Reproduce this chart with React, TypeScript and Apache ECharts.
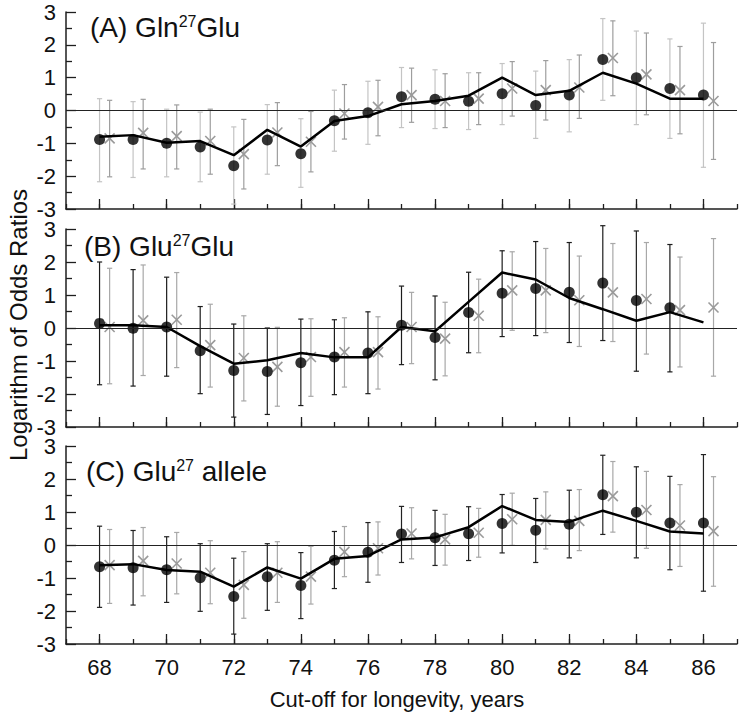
import React, { useEffect, useRef } from "react";
import * as echarts from "echarts";

const years = [68, 69, 70, 71, 72, 73, 74, 75, 76, 77, 78, 79, 80, 81, 82, 83, 84, 85, 86];
const evenTicks = [68, 70, 72, 74, 76, 78, 80, 82, 84, 86];
const panelTitles = ["(A) Gln{sup|27}Glu", "(B) Glu{sup|27}Glu", "(C) Glu{sup|27} allele"];
const yTitle = "Logarithm of Odds Ratios";
const xTitle = "Cut-off for longevity, years";

// Panel A
const aDot = [-0.88, -0.88, -1.0, -1.11, -1.68, -0.9, -1.32, -0.31, -0.07, 0.42, 0.34, 0.28, 0.51, 0.15, 0.47, 1.55, 1.0, 0.67, 0.47];
const aDotHi = [0.36, 0.27, 0.04, -0.05, -0.5, 0.18, -0.25, 0.62, 0.89, 1.31, 1.24, 1.15, 1.43, 1.2, 1.55, 2.8, 2.42, 2.18, 2.66];
const aDotLo = [-2.17, -2.04, -2.02, -2.17, -2.85, -1.94, -2.34, -1.24, -1.03, -0.52, -0.55, -0.58, -0.43, -0.85, -0.65, 0.31, -0.43, -0.85, -1.73];
const aLine = [-0.8, -0.75, -0.98, -0.93, -1.36, -0.59, -1.1, -0.32, -0.17, 0.19, 0.29, 0.45, 1.0, 0.47, 0.6, 1.15, 0.82, 0.36, 0.36];
const aCross = [-0.85, -0.68, -0.78, -0.93, -1.33, -0.67, -0.95, -0.09, 0.11, 0.47, 0.29, 0.36, 0.67, 0.62, 0.7, 1.6, 1.1, 0.62, 0.29];
const aCrossHi = [0.31, 0.34, 0.17, 0.04, -0.27, 0.24, -0.03, 0.79, 0.92, 1.29, 1.12, 1.15, 1.49, 1.52, 1.69, 2.73, 2.36, 1.95, 2.07];
const aCrossLo = [-2.02, -1.78, -1.78, -1.94, -2.39, -1.68, -1.87, -0.87, -0.77, -0.36, -0.52, -0.43, -0.17, -0.29, -0.24, 0.45, -0.13, -0.71, -1.49];

// Panel B
const bDot = [0.14, -0.01, 0.03, -0.69, -1.29, -1.32, -1.05, -0.88, -0.76, 0.08, -0.29, 0.47, 1.05, 1.2, 1.08, 1.36, 0.83, 0.61, null];
const bDotHi = [2.0, 1.77, 1.54, 0.65, 0.12, 0.0, 0.27, 0.25, 0.49, 1.27, 0.97, 1.69, 2.34, 2.62, 2.59, 3.1, 2.94, 2.53, null];
const bDotLo = [-1.72, -1.76, -1.46, -1.99, -2.7, -2.62, -2.35, -2.02, -1.99, -1.11, -1.57, -0.75, -0.26, -0.23, -0.44, -0.38, -1.31, -1.33, null];
const bLine = [0.08, 0.08, 0.03, -0.55, -1.08, -0.98, -0.76, -0.89, -0.89, 0.03, -0.1, 0.79, 1.68, 1.47, 0.91, 0.57, 0.22, 0.48, 0.17];
const bCross = [0.03, 0.23, 0.25, -0.52, -0.91, -1.18, -0.88, -0.73, -0.73, 0.03, -0.32, 0.37, 1.14, 1.14, 0.84, 1.08, 0.88, 0.54, 0.62];
const bCrossHi = [1.81, 1.91, 1.68, 0.72, 0.37, 0.02, 0.28, 0.31, 0.34, 1.08, 0.78, 1.48, 2.31, 2.41, 2.18, 2.56, 2.59, 2.15, 2.71];
const bCrossLo = [-1.69, -1.44, -1.2, -1.79, -2.21, -2.37, -2.07, -1.79, -1.85, -1.08, -1.45, -0.75, -0.07, -0.14, -0.56, -0.41, -0.79, -1.18, -1.46];

// Panel C
const cDot = [-0.66, -0.69, -0.75, -0.99, -1.56, -0.96, -1.23, -0.46, -0.22, 0.33, 0.22, 0.34, 0.65, 0.45, 0.63, 1.52, 0.99, 0.67, 0.67];
const cDotHi = [0.57, 0.44, 0.25, 0.04, -0.4, 0.04, -0.23, 0.41, 0.68, 1.17, 1.05, 1.16, 1.53, 1.41, 1.66, 2.72, 2.37, 2.08, 2.74];
const cDotLo = [-1.89, -1.82, -1.74, -2.01, -2.7, -1.98, -2.23, -1.32, -1.13, -0.53, -0.62, -0.47, -0.24, -0.53, -0.39, 0.32, -0.39, -0.75, -1.4];
const cLine = [-0.61, -0.58, -0.76, -0.81, -1.26, -0.68, -1.02, -0.42, -0.33, 0.17, 0.23, 0.54, 1.18, 0.76, 0.7, 1.04, 0.73, 0.41, 0.35];
const cCross = [-0.61, -0.48, -0.56, -0.84, -1.21, -0.84, -0.96, -0.21, -0.1, 0.35, 0.17, 0.37, 0.78, 0.76, 0.73, 1.48, 1.06, 0.59, 0.42];
const cCrossHi = [0.47, 0.53, 0.38, 0.13, -0.2, 0.1, -0.04, 0.56, 0.7, 1.13, 0.93, 1.11, 1.57, 1.61, 1.68, 2.53, 2.23, 1.83, 2.07];
const cCrossLo = [-1.77, -1.54, -1.48, -1.78, -2.22, -1.74, -1.79, -0.96, -0.91, -0.42, -0.61, -0.37, -0.01, -0.12, -0.17, 0.39, -0.1, -0.65, -1.25];

const CROSS_SHIFT = 0.3;
const FONT = "'Liberation Sans', Arial, sans-serif";

const panels = [
  { dot: aDot, dotHi: aDotHi, dotLo: aDotLo, line: aLine, cross: aCross, crossHi: aCrossHi, crossLo: aCrossLo, dotBar: "#c4c4c4", crossBar: "#9e9e9e" },
  { dot: bDot, dotHi: bDotHi, dotLo: bDotLo, line: bLine, cross: bCross, crossHi: bCrossHi, crossLo: bCrossLo, dotBar: "#1c1c1c", crossBar: "#a8a8a8" },
  { dot: cDot, dotHi: cDotHi, dotLo: cDotLo, line: cLine, cross: cCross, crossHi: cCrossHi, crossLo: cCrossLo, dotBar: "#222222", crossBar: "#a8a8a8" },
];

const gridTops = [12, 229, 446];
const gridHeights = [197, 198, 198];
const titlePos = [
  [90, 13],
  [84, 232],
  [86, 457],
];

function errorBarSeries(xs: number[], lo: (number | null)[], hi: (number | null)[], color: string, gi: number) {
  const data: number[][] = [];
  xs.forEach((x, i) => {
    if (lo[i] != null && hi[i] != null) data.push([x, lo[i] as number, hi[i] as number]);
  });
  return {
    type: "custom",
    xAxisIndex: gi * 2,
    yAxisIndex: gi,
    z: 1,
    silent: true,
    encode: { x: 0, y: [1, 2] },
    data,
    renderItem: (params: any, api: any) => {
      const x = api.value(0);
      const top = api.coord([x, api.value(2)]);
      const bot = api.coord([x, api.value(1)]);
      const c = 2.6;
      const st = { stroke: color, lineWidth: 1.2 };
      return {
        type: "group",
        children: [
          { type: "line", shape: { x1: top[0], y1: top[1], x2: bot[0], y2: bot[1] }, style: st },
          { type: "line", shape: { x1: top[0] - c, y1: top[1], x2: top[0] + c, y2: top[1] }, style: st },
          { type: "line", shape: { x1: bot[0] - c, y1: bot[1], x2: bot[0] + c, y2: bot[1] }, style: st },
        ],
      };
    },
  };
}

function crossSeries(xs: number[], vals: (number | null)[], gi: number) {
  const data: number[][] = [];
  xs.forEach((x, i) => {
    if (vals[i] != null) data.push([x, vals[i] as number]);
  });
  return {
    type: "custom",
    xAxisIndex: gi * 2,
    yAxisIndex: gi,
    z: 2,
    silent: true,
    encode: { x: 0, y: 1 },
    data,
    renderItem: (params: any, api: any) => {
      const p = api.coord([api.value(0), api.value(1)]);
      const h = 5;
      const st = { stroke: "#9a9a9a", lineWidth: 1.6 };
      return {
        type: "group",
        children: [
          { type: "line", shape: { x1: p[0] - h, y1: p[1] - h, x2: p[0] + h, y2: p[1] + h }, style: st },
          { type: "line", shape: { x1: p[0] - h, y1: p[1] + h, x2: p[0] + h, y2: p[1] - h }, style: st },
        ],
      };
    },
  };
}

export default function App() {
  const ref = useRef<HTMLDivElement>(null);
  useEffect(() => {
    if (!ref.current) return;
    const chart = echarts.init(ref.current, undefined, { renderer: "svg" });
    const axisColor = "#1e1e1e";

    const grids = gridTops.map((t, i) => ({ left: 66, top: t, width: 671, height: gridHeights[i] }));
    const xAxes: any[] = [];
    const yAxes: any[] = [];
    const series: any[] = [];

    panels.forEach((p, gi) => {
      xAxes.push({
        gridIndex: gi,
        type: "value",
        min: 67,
        max: 87,
        interval: 1,
        position: "bottom",
        axisLine: { show: true, onZero: false, lineStyle: { color: axisColor, width: 1.5 } },
        axisTick: { show: true, inside: true, length: 5, lineStyle: { color: axisColor, width: 1.3 } },
        axisLabel: { show: false },
        splitLine: { show: false },
      });
      xAxes.push({
        gridIndex: gi,
        type: "value",
        min: 67,
        max: 87,
        interval: 1,
        position: "bottom",
        axisLine: { show: false, onZero: false },
        axisTick: { show: true, inside: true, length: 10, customValues: evenTicks, lineStyle: { color: axisColor, width: 1.3 } },
        axisLabel: {
          show: gi === 2,
          customValues: evenTicks,
          fontSize: 22,
          color: "#111",
          fontFamily: FONT,
          margin: 12,
        },
        splitLine: { show: false },
      });
      yAxes.push({
        gridIndex: gi,
        type: "value",
        min: -3,
        max: 3,
        interval: 1,
        axisLine: { show: true, onZero: false, lineStyle: { color: axisColor, width: 1.5 } },
        axisTick: { show: true, inside: true, length: 10, lineStyle: { color: axisColor, width: 1.3 } },
        minorTick: { show: true, splitNumber: 2, length: 6, lineStyle: { color: axisColor, width: 1.3 } },
        axisLabel: { fontSize: 22, color: "#111", fontFamily: FONT, margin: 10 },
        splitLine: { show: false },
        minorSplitLine: { show: false },
      });

      const crossXs = years.map((y) => y + CROSS_SHIFT);
      series.push(errorBarSeries(years, p.dotLo, p.dotHi, p.dotBar, gi));
      series.push(errorBarSeries(crossXs, p.crossLo, p.crossHi, p.crossBar, gi));
      series.push(crossSeries(crossXs, p.cross, gi));
      series.push({
        type: "scatter",
        xAxisIndex: gi * 2,
        yAxisIndex: gi,
        z: 3,
        silent: true,
        symbol: "circle",
        symbolSize: 11,
        itemStyle: { color: "#000" },
        data: years.map((y, i) => (p.dot[i] == null ? null : [y, p.dot[i]])).filter((d) => d != null),
      });
      series.push({
        type: "line",
        xAxisIndex: gi * 2,
        yAxisIndex: gi,
        z: 4,
        silent: true,
        showSymbol: false,
        symbol: "none",
        lineStyle: { color: "#000", width: 2.5 },
        data: years.map((y, i) => [y, p.line[i]]),
        markLine: {
          silent: true,
          symbol: ["none", "none"],
          label: { show: false },
          lineStyle: { color: "#222", width: 1.2, type: "solid" },
          data: [{ yAxis: 0 }],
        },
      });
    });

    const graphics: any[] = panelTitles.map((t, i) => ({
      type: "text",
      x: titlePos[i][0],
      y: titlePos[i][1],
      style: {
        text: t,
        fontSize: 28,
        lineHeight: 28,
        fontFamily: FONT,
        fill: "#111",
        verticalAlign: "top",
        rich: {
          sup: { fontSize: 16, lineHeight: 19, verticalAlign: "top", fontFamily: FONT, fill: "#111" },
        },
      },
    }));
    graphics.push({
      type: "text",
      x: 18,
      y: 325,
      rotation: Math.PI / 2,
      style: { text: yTitle, fontSize: 24, fontFamily: FONT, fill: "#111", align: "center", verticalAlign: "middle" },
    });
    graphics.push({
      type: "text",
      x: 397,
      y: 699,
      style: { text: xTitle, fontSize: 22, fontFamily: FONT, fill: "#111", align: "center", verticalAlign: "middle" },
    });

    chart.setOption({
      animation: false,
      backgroundColor: "#fff",
      grid: grids,
      xAxis: xAxes,
      yAxis: yAxes,
      series,
      graphic: graphics,
    });
    return () => chart.dispose();
  }, []);
  return <div ref={ref} style={{ position: "fixed", left: 0, top: 0, width: 742, height: 715 }} />;
}
